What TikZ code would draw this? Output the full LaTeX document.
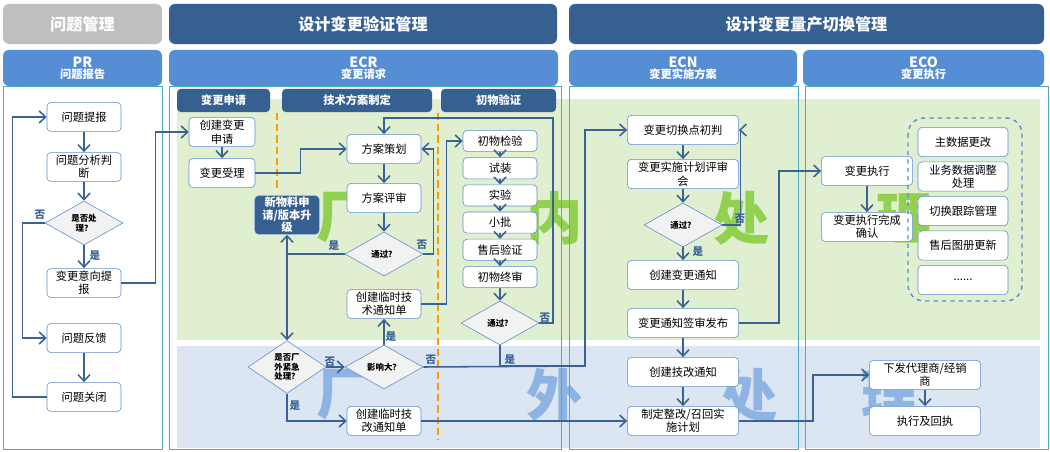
\documentclass[tikz,border=0pt]{standalone}
\usepackage{fontspec}
\setmainfont{Noto Sans CJK SC}
\usetikzlibrary{shapes.geometric, calc, arrows.meta, positioning}
\tikzset{>={Straight Barb[length=1.6mm,width=3mm]}}
\definecolor{hdrdark}{HTML}{376092}
\definecolor{hdrmid}{HTML}{558ED5}
\definecolor{linecol}{HTML}{3A6296}
\definecolor{boxline}{HTML}{5B8BD0}
\definecolor{greenband}{HTML}{E0EFD0}
\definecolor{blueband}{HTML}{DCE6F2}
\definecolor{framecol}{HTML}{4BACC6}
\definecolor{wmgreen}{HTML}{92D050}
\definecolor{wmblue}{HTML}{8DB4E2}
\tikzset{
  box/.style={draw=boxline, fill=white, rounded corners=0.1cm, align=center,
    minimum width=1.85cm, minimum height=0.73cm, inner sep=1pt,
    font=\fontsize{8}{9.5}\selectfont},
  smallbox/.style={box, minimum height=0.53cm},
  dia/.style={diamond, draw=boxline, fill=gray!10, align=center, inner sep=0pt,
    minimum width=1.95cm, minimum height=1.1cm, font=\bfseries\fontsize{6}{7}\selectfont},
  hdr/.style={fill=hdrdark, text=white, rounded corners=0.15cm, font=\bfseries\fontsize{11.5}{13}\selectfont},
  colhdr/.style={fill=hdrmid, text=white, rounded corners=0.15cm, align=center, font=\bfseries\fontsize{10}{11}\selectfont},
  subhdr/.style={fill=hdrdark, text=white, rounded corners=0.1cm, font=\bfseries\fontsize{8}{9}\selectfont},
  arr/.style={->, draw=linecol, line width=1.1pt},
  lbl/.style={text=linecol, font=\bfseries\fontsize{7.5}{8}\selectfont},
  wm/.style={font=\bfseries\fontsize{40}{40}\selectfont},
}
\begin{document}
\begin{tikzpicture}[x=0.025cm, y=-0.025cm]
\useasboundingbox (0,0) rectangle (1050,452);

% Bands
\fill[greenband] (177,99) rectangle (1040,340);
\fill[blueband] (177,346) rectangle (1040,448);

% Watermarks
\foreach \t/\x in {厂/345, 内/555, 处/742, 理/905}
  \node[wm, text=wmgreen] at (\x,218) {\t};
\foreach \t/\x in {厂/345, 外/555, 处/750, 理/890}
  \node[wm, text=wmblue] at (\x,395) {\t};

% Headers
\node[hdr, fill=gray!50, minimum width=159*0.025cm, minimum height=1cm] (hpm) at (82.5,24) {问题管理};
\node[hdr, minimum width=388*0.025cm, minimum height=1cm] (hver) at (363,24) {设计变更验证管理};
\node[hdr, minimum width=475*0.025cm, minimum height=1cm] (hprod) at (806.5,24) {设计变更量产切换管理};
\node[colhdr, minimum width=159*0.025cm, minimum height=0.9cm] (hpr) at (82.5,68) {PR\\[-3pt]{\fontsize{8}{9}\selectfont 问题报告}};
\node[colhdr, minimum width=389*0.025cm, minimum height=0.9cm] (hecr) at (363.5,68) {ECR\\[-3pt]{\fontsize{8}{9}\selectfont 变更请求}};
\node[colhdr, minimum width=228*0.025cm, minimum height=0.9cm] (hecn) at (683,68) {ECN\\[-3pt]{\fontsize{8}{9}\selectfont 变更实施方案}};
\node[colhdr, minimum width=241*0.025cm, minimum height=0.9cm] (heco) at (923.5,68) {ECO\\[-3pt]{\fontsize{8}{9}\selectfont 变更执行}};

% Column frames
\foreach \a/\b in {3/162, 169/561, 569/798, 805/1048}
  \draw[framecol, line width=0.6pt] (\a,86) rectangle (\b,449);

% Sub headers
\node[subhdr, minimum width=93*0.025cm, minimum height=0.58cm] (sapp) at (223.5,100.5) {变更申请};
\node[subhdr, minimum width=150*0.025cm, minimum height=0.58cm] (stech) at (357,100.5) {技术方案制定};
\node[subhdr, minimum width=115*0.025cm, minimum height=0.58cm] (sfirst) at (498.5,100.5) {初物验证};

% Dashed dividers
\draw[orange!80!yellow, line width=1.3pt, dash pattern=on 5pt off 3pt] (277,113) -- (277,190);
\draw[orange!80!yellow, line width=1.3pt, dash pattern=on 5pt off 3pt] (438,113) -- (438,440);

% PR nodes
\node[box] (pr1) at (84,117) {问题提报};
\node[box] (pr2) at (84,167) {问题分析判\\断};
\node[dia] (pr3) at (84,223) {是否处\\理？};
\node[box] (pr4) at (84,283) {变更意向提\\报};
\node[box] (pr5) at (84,338) {问题反馈};
\node[box] (pr6) at (84,397) {问题关闭};

% ECR nodes
\node[box, minimum width=1.65cm] (cr1) at (222,132) {创建变更\\申请};
\node[box, minimum width=1.65cm] (cr2) at (222,173) {变更受理};
\node[box, fill=hdrdark, text=white, draw=boxline!60!white, minimum width=1.62cm, minimum height=0.95cm,
  font=\bfseries\fontsize{8}{9}\selectfont] (newmat) at (287,215) {新物料申\\请/版本升\\级};
\node[box] (cr3) at (384,149) {方案策划};
\node[box] (cr4) at (384,198) {方案评审};
\node[dia] (cr5) at (384,254) {通过？};
\node[box] (cr6) at (384,304) {创建临时技\\术通知单};
\node[dia] (cr7) at (287,367) {是否厂\\外紧急\\处理？};
\node[dia] (cr8) at (384,367) {影响大？};
\node[box] (cr9) at (384,421) {创建临时技\\改通知单};
\foreach \n/\t [count=\i from 0] in {fv1/初物检验, fv2/试装, fv3/实验, fv4/小批, fv5/售后验证, fv6/初物终审}
  \node[smallbox] (\n) at (500,141+27.2*\i) {\t};
\node[dia] (fv7) at (500,323) {通过？};

% ECN nodes
\node[box, minimum width=2.78cm] (cn1) at (683,130) {变更切换点初判};
\node[box, minimum width=2.78cm] (cn2) at (683,174) {变更实施计划评审\\会};
\node[dia] (cn3) at (683,225) {通过？};
\node[box, minimum width=2.78cm] (cn4) at (683,275) {创建变更通知};
\node[box, minimum width=2.78cm] (cn5) at (683,323) {变更通知签审发布};
\node[box, minimum width=2.78cm] (cn6) at (683,372) {创建技改通知};
\node[box, minimum width=2.78cm] (cn7) at (683,421) {制定整改/召回实\\施计划};

% ECO nodes
\node[box, minimum width=2.28cm] (co1) at (867,171) {变更执行};
\node[box, minimum width=2.28cm] (co2) at (867,227) {变更执行完成\\确认};
\draw[boxline, line width=1pt, dashed, rounded corners=0.4cm] (908,118) rectangle (1022,301);
\foreach \n/\t [count=\i from 0] in {co3/主数据更改, co4/业务数据调整\\处理, co5/切换跟踪管理, co6/售后图册更新}
  \node[box, minimum width=2.25cm] (\n) at (963,142+34.5*\i) {\t};
\node[box, minimum width=2.25cm] (co7) at (963,280) {......};
\node[box, minimum width=2.78cm] (co8) at (925,375) {下发代理商/经销\\商};
\node[box, minimum width=2.78cm] (co9) at (925,421) {执行及回执};

% PR connectors
\draw[arr] (pr1) -- (pr2);
\draw[arr] (pr2) -- (pr3);
\draw[arr] (pr3) -- (pr4);
\draw[arr] (pr5) -- (pr6);
\draw[arr] (pr6.west) -- ++(-34,0) |- (pr1.west);
\draw[arr] (pr3.west) -- ++(-22,0) |- (pr5.west);
\draw[arr] (pr4.east) -- ++(34,0) |- (cr1.west);
\node[lbl] at (40,215) {否};
\node[lbl] at (95,256) {是};

% ECR connectors
\draw[arr] (cr1) -- (cr2);
\draw[arr] (cr2.east) -- ++(45,0) |- (cr3.west);
\draw[arr] (cr3) -- (cr4);
\draw[arr] (cr4) -- (cr5);
\draw[arr] (cr5.east) -- ++(10,0) |- (cr3.east);
\coordinate (yesjoin) at (newmat.south |- cr5.west);
\draw[draw=linecol, line width=1.1pt] (cr5.west) -- (yesjoin);
\draw[arr] (yesjoin) -- (newmat.south);
\draw[arr] (yesjoin) -- (cr7.north);
\draw[arr] (cr7) -- (cr8);
\draw[arr] (cr8) -- (cr6);
\draw[arr] (cr7.south) |- (cr9.west);
\draw[arr] (cr6.east) -- ++(25,0) |- (fv1.west);
\foreach \a/\b in {fv1/fv2, fv2/fv3, fv3/fv4, fv4/fv5, fv5/fv6, fv6/fv7}
  \draw[arr] (\a) -- (\b);
\coordinate (fvtop) at (553,118);
\draw[arr] (fv7.east) -| (fvtop) -| (cr3.north);
\coordinate (nojoin) at (585,366);
\draw[draw=linecol, line width=1.1pt] (fv7.south) |- (nojoin);
\draw[arr] (cr8.east) -- (nojoin) |- (cn1.west);
\draw[arr] (cr9) -- (cn7);
\node[lbl] at (422,245) {否};
\node[lbl] at (334,246) {是};
\node[lbl] at (391,337) {是};
\node[lbl] at (431,360) {否};
\node[lbl] at (330,362) {否};
\node[lbl] at (295,406) {是};
\node[lbl] at (545,318) {否};
\node[lbl] at (510,360) {是};

% ECN connectors
\foreach \a/\b in {cn1/cn2, cn2/cn3, cn3/cn4, cn4/cn5, cn5/cn6, cn6/cn7}
  \draw[arr] (\a) -- (\b);
\draw[arr] (cn3.east) -- ++(18,0) |- (cn1.east);
\draw[arr] (cn5.east) -- ++(40,0) |- (co1.west);
\draw[arr] (cn7.east) -- ++(74,0) |- (co8.west);
\node[lbl] at (740,219) {否};
\node[lbl] at (698,252) {是};

% ECO connectors
\draw[arr] (co1) -- (co2);
\draw[arr] (co8) -- (co9);
\end{tikzpicture}
\end{document}
